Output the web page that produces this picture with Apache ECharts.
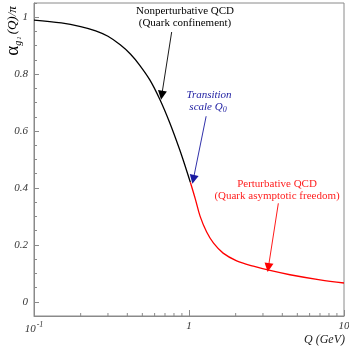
<!DOCTYPE html>
<html><head><meta charset="utf-8">
<script src="https://cdn.jsdelivr.net/npm/echarts@6/dist/echarts.min.js"></script>
<style>html,body{margin:0;padding:0;background:#fff}#c{width:349px;height:348px}</style>
</head><body><div id="c"></div>
<script>
// Nonperturbative (black) branch
const qBlack = [0.1, 0.15, 0.2, 0.25, 0.3, 0.36, 0.42, 0.48, 0.56, 0.65, 0.75, 0.87, 0.96, 1.02];
const vBlack = [0.990, 0.980, 0.967, 0.952, 0.933, 0.903, 0.870, 0.832, 0.779, 0.710, 0.630, 0.535, 0.465, 0.420];
// Perturbative (red) branch
const qRed = [1.02, 1.1, 1.18, 1.3, 1.44, 1.66, 2.03, 2.6, 3.33, 4.48, 7.0, 10];
const vRed = [0.420, 0.360, 0.300, 0.245, 0.206, 0.171, 0.144, 0.125, 0.110, 0.095, 0.077, 0.066];
// axis ticks
const xMajorTicks = [0.1, 1, 10];
const xMinorTicks = [0.2, 0.3, 0.4, 0.5, 0.6, 0.7, 0.8, 0.9, 2, 3, 4, 5, 6, 7, 8, 9];
const yTickLabels = ['0', '0.2', '0.4', '0.6', '0.8', '1'];
// annotation arrows [from, to] in data units
const arrowBlack = [[0.773, 0.948], [0.667, 0.726]];
const arrowBlue = [[1.29, 0.652], [1.066, 0.43]];
const arrowRed = [[3.77, 0.346], [3.25, 0.12]];

const SERIF = "'Liberation Serif','DejaVu Serif',serif";
const AX = '#8a8a8a';
const Y_MIN = -0.05, Y_MAX = 1.05;

function pairs(xs, ys) { return xs.map((x, i) => [x, ys[i]]); }
function arrowML(a, color) {
  return {
    silent: true, animation: false,
    symbol: ['none', 'triangle'], symbolSize: 9,
    lineStyle: { color: color, width: 0.9, type: 'solid' },
    itemStyle: { color: color },
    label: { show: false },
    emphasis: { disabled: true },
    data: [[{ coord: a[0] }, { coord: a[1] }]]
  };
}

const chart = echarts.init(document.getElementById('c'), null, { renderer: 'canvas' });
chart.setOption({
  animation: false,
  backgroundColor: '#fff',
  grid: { left: 34, right: 5, top: 3, bottom: 32, show: true, borderColor: AX, borderWidth: 1, containLabel: false, outerBoundsMode: 'none' },
  xAxis: {
    type: 'log', logBase: 10, min: 0.1, max: 10,
    axisLine: { show: true, onZero: false, lineStyle: { color: AX } },
    axisTick: { show: true, inside: true, length: 6, lineStyle: { color: AX } },
    splitLine: { show: false },
    minorTick: { show: false },
    axisLabel: {
      margin: 5, color: '#333', fontFamily: SERIF, fontStyle: 'italic', fontSize: 11,
      formatter: function (v) {
        if (Math.abs(v - xMajorTicks[0]) < 1e-9) return '10{s|-1}';
        return String(Math.round(v));
      },
      rich: { s: { fontSize: 8, fontFamily: SERIF, fontStyle: 'italic', color: '#333', verticalAlign: 'top', padding: [0, 0, 8, 1] } }
    }
  },
  yAxis: [{
    type: 'value', min: Y_MIN, max: Y_MAX, splitNumber: 5,
    axisLine: { show: true, onZero: false, lineStyle: { color: AX } },
    axisTick: { show: true, inside: true, length: 5, lineStyle: { color: AX } },
    splitLine: { show: false },
    axisLabel: {
      margin: 6, color: '#333', fontFamily: SERIF, fontStyle: 'italic', fontSize: 11,
      showMinLabel: false, showMaxLabel: false,
      formatter: function (v) {
        const i = Math.round(v / 0.2);
        if (Math.abs(v - i * 0.2) < 1e-6 && i >= 0 && i < yTickLabels.length) return yTickLabels[i];
        return '';
      }
    }
  }, {
    type: 'value', min: Y_MIN, max: Y_MAX, interval: 0.05, position: 'left', offset: 0,
    axisLine: { show: false, onZero: false },
    axisTick: { show: true, inside: true, length: 3, lineStyle: { color: AX } },
    axisLabel: { show: false },
    splitLine: { show: false }
  }],
  series: [
    {
      type: 'line', name: 'np', data: pairs(qBlack, vBlack), smooth: 0.35, showSymbol: false,
      lineStyle: { color: '#000', width: 1.3 }, z: 3,
      markLine: arrowML(arrowBlack, '#000')
    },
    {
      type: 'line', name: 'p', data: pairs(qRed, vRed), smooth: 0.35, showSymbol: false,
      lineStyle: { color: '#ff0000', width: 1.3 }, z: 3,
      markLine: arrowML(arrowRed, '#ff0000')
    },
    {
      type: 'line', name: 'q0', data: [], showSymbol: false,
      markLine: arrowML(arrowBlue, '#1a1aa0')
    },
    {
      type: 'custom', name: 'minorX', silent: true, clip: false, z: 4,
      data: xMinorTicks.map(q => [q, Y_MIN]),
      renderItem: function (params, api) {
        const p = api.coord([api.value(0), api.value(1)]);
        return { type: 'line', shape: { x1: p[0], y1: p[1], x2: p[0], y2: p[1] - 3 }, style: { stroke: AX, lineWidth: 1 } };
      }
    }
  ],
  graphic: [
    { type: 'text', x: 185, y: 11, style: { text: 'Nonperturbative QCD', font: '11px ' + SERIF, fill: '#000', align: 'center', verticalAlign: 'middle' } },
    { type: 'text', x: 185, y: 23, style: { text: '(Quark confinement)', font: '11px ' + SERIF, fill: '#000', align: 'center', verticalAlign: 'middle' } },
    { type: 'text', x: 209, y: 95, style: { text: 'Transition', font: 'italic 11px ' + SERIF, fill: '#1a1aa0', align: 'center', verticalAlign: 'middle' } },
    { type: 'text', x: 208, y: 107, style: {
      text: 'scale Q{s|0}', font: 'italic 11px ' + SERIF, fill: '#1a1aa0', align: 'center', verticalAlign: 'middle',
      rich: { s: { fontSize: 8, fontFamily: SERIF, fontStyle: 'italic', fill: '#1a1aa0', color: '#1a1aa0', padding: [5, 0, 0, 0] } } } },
    { type: 'text', x: 277, y: 184, style: { text: 'Perturbative QCD', font: '11px ' + SERIF, fill: '#ff2020', align: 'center', verticalAlign: 'middle' } },
    { type: 'text', x: 277, y: 196, style: { text: '(Quark asymptotic freedom)', font: '11px ' + SERIF, fill: '#ff2020', align: 'center', verticalAlign: 'middle' } },
    { type: 'text', x: 345, y: 340, style: { text: 'Q (GeV)', font: 'italic 12px ' + SERIF, fill: '#222', align: 'right', verticalAlign: 'middle' } },
    { type: 'text', x: 13, y: 31, rotation: Math.PI / 2, style: {
      text: '{a|α}{g|g}{o|1}{b|(Q)/π}', align: 'center', verticalAlign: 'middle', fill: '#000',
      rich: {
        a: { fontSize: 19, fontFamily: SERIF, color: '#000', lineHeight: 20, verticalAlign: 'middle' },
        g: { fontSize: 10, fontFamily: SERIF, fontStyle: 'italic', color: '#000', lineHeight: 20, verticalAlign: 'bottom', padding: [6, 1, 0, 0] },
        o: { fontSize: 7, fontFamily: SERIF, fontStyle: 'italic', color: '#000', lineHeight: 20, verticalAlign: 'bottom', padding: [9, 2, 0, 0] },
        b: { fontSize: 13, fontFamily: SERIF, fontStyle: 'italic', color: '#000', lineHeight: 20, verticalAlign: 'middle' }
      } } }
  ]
});
</script></body></html>
